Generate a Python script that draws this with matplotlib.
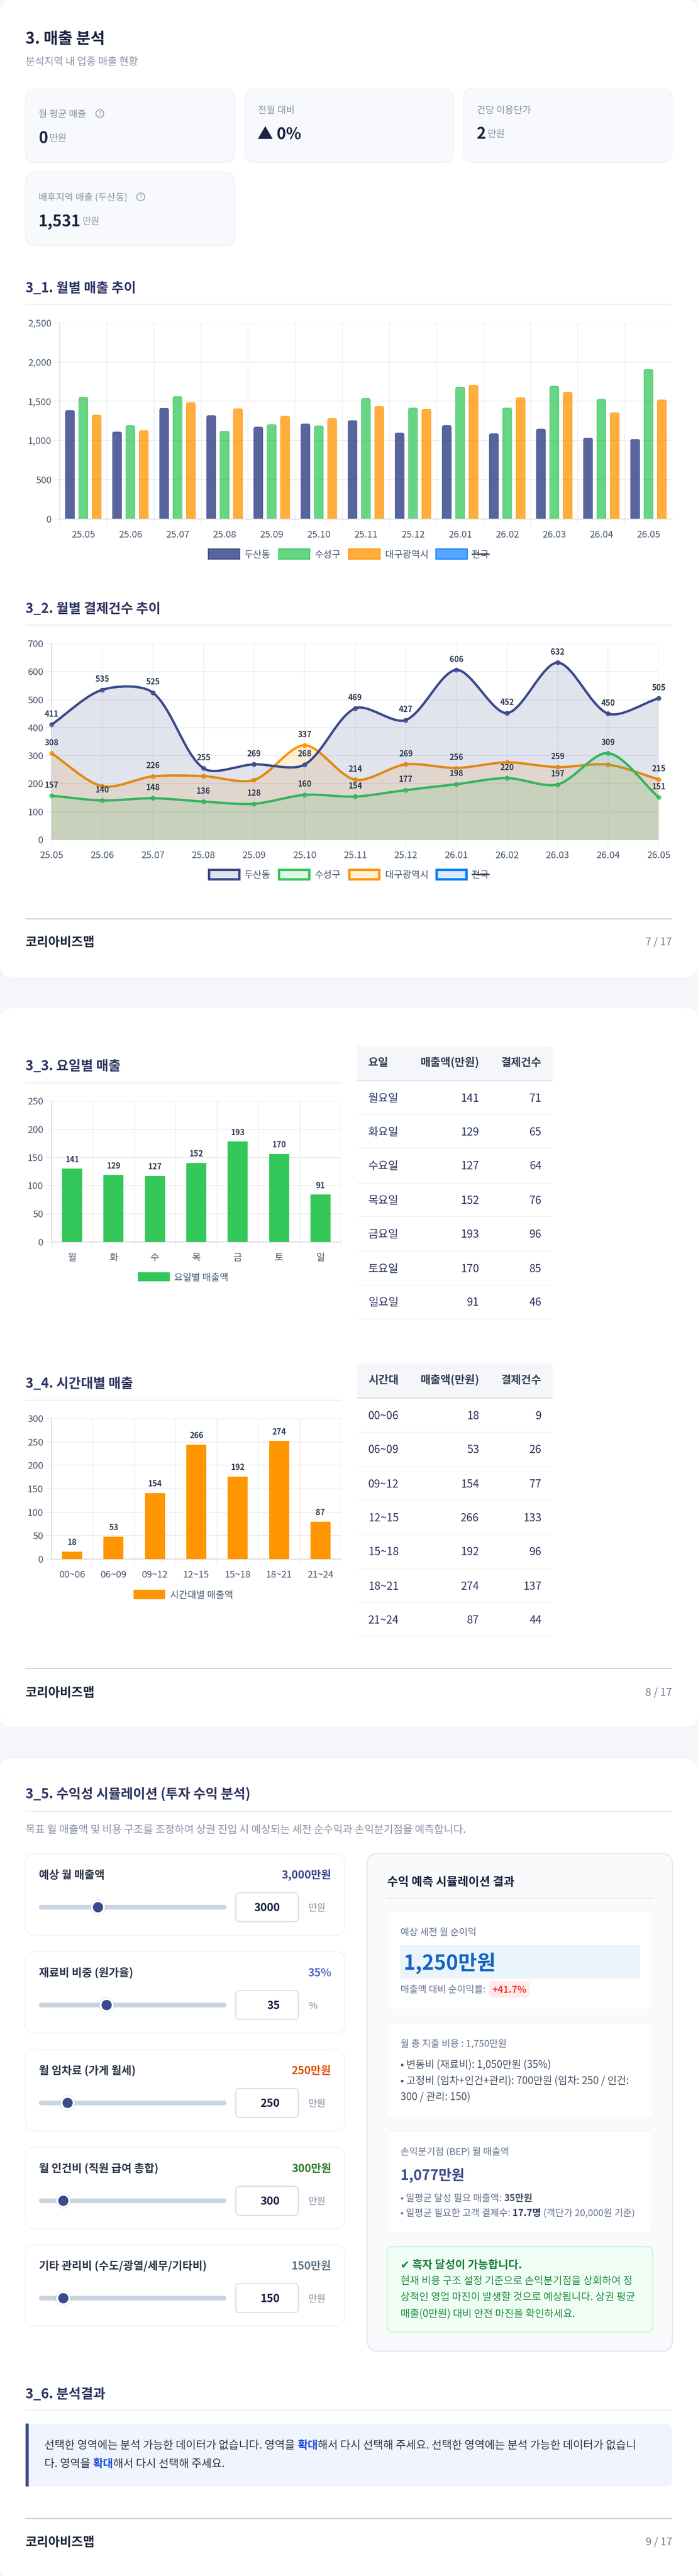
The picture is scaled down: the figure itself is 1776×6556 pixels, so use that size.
# monthly sales report page: kpi cards, bar and line charts, tables and a simulator panel
import matplotlib
matplotlib.use("Agg")
import matplotlib.pyplot as plt
import numpy as np
from matplotlib.patches import FancyBboxPatch, Rectangle, Circle, PathPatch
from matplotlib.path import Path
from matplotlib.transforms import IdentityTransform

plt.rcParams["font.family"] = ["Noto Sans CJK KR", "DejaVu Sans"]

W, H = 1776, 6556

# chart data
months = ["25.05", "25.06", "25.07", "25.08", "25.09", "25.10", "25.11", "25.12", "26.01", "26.02", "26.03", "26.04", "26.05"]
sales_dong = [1386, 1112, 1413, 1321, 1174, 1214, 1256, 1099, 1194, 1089, 1149, 1034, 1017]
sales_gu = [1555, 1194, 1563, 1122, 1206, 1189, 1540, 1418, 1685, 1418, 1695, 1530, 1909]
sales_city = [1326, 1129, 1486, 1408, 1314, 1284, 1436, 1403, 1710, 1550, 1620, 1358, 1520]

count_dong = [411, 535, 525, 255, 269, 268, 469, 427, 606, 452, 632, 450, 505]
count_gu = [157, 140, 148, 136, 128, 160, 154, 177, 198, 220, 197, 309, 151]
count_city = [308, 191, 226, 227, 213, 337, 214, 269, 256, 276, 259, 268, 215]
# the picture hides these city labels where they would collide
city_label_hidden = [1, 3, 4, 9, 11]

days = ["월", "화", "수", "목", "금", "토", "일"]
day_names = ["월요일", "화요일", "수요일", "목요일", "금요일", "토요일", "일요일"]
day_sales = [141, 129, 127, 152, 193, 170, 91]
day_counts = [71, 65, 64, 76, 96, 85, 46]
# drawn bar heights sit a bit below the printed labels in the picture
day_bars = [130, 119, 117, 140, 178, 156, 84]

hours = ["00~06", "06~09", "09~12", "12~15", "15~18", "18~21", "21~24"]
hour_sales = [18, 53, 154, 266, 192, 274, 87]
hour_counts = [9, 26, 77, 133, 96, 137, 44]
hour_bars = [16, 48, 141, 244, 176, 252, 80]

slider_labels = ["예상 월 매출액", "재료비 비중 (원가율)", "월 임차료 (가게 월세)", "월 인건비 (직원 급여 총합)", "기타 관리비 (수도/광열/세무/기타비)"]
slider_texts = ["3,000만원", "35%", "250만원", "300만원", "150만원"]
slider_values = [3000, 35, 250, 300, 150]
slider_max = [10000, 100, 2000, 3000, 1500]
slider_units = ["만원", "%", "만원", "만원", "만원"]
slider_colors = ["#3B4A8C", "#5C6BC0", "#E65100", "#2E7D32", "#64748B"]

NAVY, GREEN, ORANGE, BLUE = "#3B4A8C", "#34C759", "#FF9500", "#007AFF"
series_names = ["두산동", "수성구", "대구광역시", "전국"]
series_colors = [NAVY, GREEN, ORANGE, BLUE]

TITLE = "#1A2340"
SECTION = "#2D3561"
GREY = "#8A94A6"
TICK = "#4A5A70"
LABEL = "#2F3E55"
GRID = "#ECECEF"
AXIS = "#D6D7DB"

fig = plt.figure(figsize=(W / 100, H / 100), dpi=100, facecolor="#F4F6FA")
bg = fig.add_axes([0, 0, 1, 1], zorder=1)
bg.set_xlim(0, W)
bg.set_ylim(H, 0)
bg.axis("off")
renderer = fig.canvas.get_renderer()


def rrect(x0, y0, x1, y1, r, fc, ec="none", lw=0, z=1):
    p = FancyBboxPatch((x0 + r, y0 + r), x1 - x0 - 2 * r, y1 - y0 - 2 * r,
                       boxstyle=f"round,pad={r},rounding_size={r}",
                       fc=fc, ec=ec, lw=lw * 0.72, zorder=z)
    bg.add_patch(p)
    return p


def rect(x0, y0, x1, y1, fc, z=2):
    bg.add_patch(Rectangle((x0, y0), x1 - x0, y1 - y0, fc=fc, ec="none", zorder=z))


def txt(x, cy, s, size, color, weight="normal", ha="left", z=5):
    # cy is the visual centre of the hangul line, in pixels
    return bg.text(x, cy + 0.36 * size, s, fontsize=size * 0.72, color=color,
                   fontweight=weight, ha=ha, va="baseline", zorder=z)


def run_width(s, size, weight):
    a = bg.text(0, 0, s + "|", fontsize=size * 0.72, fontweight=weight)
    b = bg.text(0, 0, "|", fontsize=size * 0.72, fontweight=weight)
    w = a.get_window_extent(renderer).width - b.get_window_extent(renderer).width
    a.remove()
    b.remove()
    return w


def runs(x, cy, parts):
    # parts: text, size, color, weight
    for s, size, color, weight in parts:
        txt(x, cy, s, size, color, weight)
        x += run_width(s, size, weight)
    return x


def section(y_title, y_rule, s, x1=1710):
    txt(65, y_title, s, 34, SECTION, "bold")
    rect(65, y_rule - 2, x1, y_rule + 2, "#F0F1F5")


def footer(y_rule, y_text, page):
    rect(65, y_rule - 1.5, 1710, y_rule + 1.5, "#CDD5E0")
    txt(65, y_text, "코리아비즈맵", 32, "#1F2937", "bold")
    txt(1710, y_text, f"{page} / 17", 27, "#6B7C93", ha="right")


def chart_axes(left, top, right, bottom):
    ax = fig.add_axes([left / W, 1 - bottom / H, (right - left) / W, (bottom - top) / H], zorder=2)
    ax.patch.set_alpha(0)
    for side in ["top", "right"]:
        ax.spines[side].set_visible(False)
    for side in ["left", "bottom"]:
        ax.spines[side].set_color(AXIS)
        ax.spines[side].set_linewidth(2 * 0.72)
    ax.set_axisbelow(True)
    ax.yaxis.grid(True, color=GRID, lw=2 * 0.72)
    ax.tick_params(axis="y", length=15 * 0.72, width=2 * 0.72, color=GRID, pad=6 * 0.72,
                   labelsize=24 * 0.72, labelcolor=TICK)
    return ax


def offset_x_grid(ax, n, with_last=True):
    # category axis with grid lines between categories
    end = n if with_last else n - 1
    ax.set_xlim(-0.5, n - 0.5)
    ax.set_xticks(np.arange(n))
    ax.set_xticks(np.arange(end + 1) - 0.5, minor=True)
    ax.xaxis.grid(True, which="minor", color=GRID, lw=1.6 * 0.72)
    ax.tick_params(axis="x", which="minor", length=15 * 0.72, width=1.6 * 0.72, color=GRID)
    ax.tick_params(axis="x", which="major", length=15 * 0.72, color="none", pad=14 * 0.72,
                   labelsize=24 * 0.72, labelcolor=TICK)


def round_top(ax, bars, r):
    # round the top corners of bars with a clip shape in display pixels
    for b in bars:
        (x0, y0), (x1, y1) = ax.transData.transform([(b.get_x(), 0), (b.get_x() + b.get_width(), b.get_height())])
        clip = FancyBboxPatch((x0 + r, y0 - 10), x1 - x0 - 2 * r, y1 - y0 + 10 - r,
                              boxstyle=f"round,pad={r},rounding_size={r}", transform=IdentityTransform())
        b.set_clip_path(clip)


def spline_path(ax, ys, tension=0.3):
    # bezier segments with the same control points chart.js uses for a tension curve
    pts = ax.transData.transform(np.column_stack([np.arange(len(ys)), ys]))
    verts = [pts[0]]
    codes = [Path.MOVETO]
    nexts, prevs = [], []
    for i, p in enumerate(pts):
        a = pts[i - 1] if i > 0 else p
        c = pts[i + 1] if i < len(pts) - 1 else p
        d1, d2 = np.linalg.norm(p - a), np.linalg.norm(c - p)
        total = d1 + d2
        s1, s2 = (d1 / total, d2 / total) if total else (0, 0)
        prevs.append(p - tension * s1 * (c - a))
        nexts.append(p + tension * s2 * (c - a))
    for i in range(len(pts) - 1):
        verts += [nexts[i], prevs[i + 1], pts[i + 1]]
        codes += [Path.CURVE4] * 3
    return ax.transData.inverted().transform(np.array(verts)), codes


def rgba(c, a):
    return matplotlib.colors.to_rgba(c, a)


def bar_value_labels(ax, xs, bars, labels):
    for x, y, s in zip(xs, bars, labels):
        ax.annotate(str(s), (x, y), xytext=(0, 23 * 0.72), textcoords="offset points",
                    ha="center", va="center", fontsize=20 * 0.72, fontweight="bold", color=LABEL)


def table(top, head_bottom, lines, rows_y, head, names, sales, counts):
    rect(908, top, 1406, head_bottom, "#F4F6FA")
    rect(908, head_bottom, 1406, head_bottom + 4, "#E2E8F0")
    head_y = (top + head_bottom) / 2 - 2
    txt(937, head_y, head[0], 28, "#334155", "bold")
    txt(1219, head_y, "매출액(만원)", 28, "#334155", "bold", ha="right")
    txt(1378, head_y, "결제건수", 28, "#334155", "bold", ha="right")
    for y in lines:
        rect(908, y - 1, 1406, y + 1, "#F0F1F5")
    for y, name, a, b in zip(rows_y, names, sales, counts):
        txt(937, y, name, 28, SECTION)
        txt(1219, y, str(a), 28, SECTION, ha="right")
        txt(1378, y, str(b), 28, SECTION, ha="right")


# page cards
rrect(0, 0, W, 2486, 32, "white")
rrect(0, 2566, W, 4395, 32, "white")
rrect(0, 4476, W, H + 8, 32, "white")

# ---- header and kpi cards
txt(65, 97, "3. 매출 분석", 40, TITLE, "bold")
txt(65, 156, "분석지역 내 업종 매출 현황", 26, GREY)


def help_icon(x, y):
    bg.add_patch(Circle((x, y), 10, fc="none", ec="#8A94A6", lw=1.4, zorder=5))
    bg.text(x, y + 6, "?", fontsize=11, color="#8A94A6", ha="center", va="baseline", zorder=5)


for x0, x1, y0, y1 in [(65, 597, 226, 413), (623, 1153, 226, 413), (1179, 1710, 226, 413), (65, 597, 438, 625)]:
    rrect(x0, y0, x1, y1, 24, "#F7F9FC", "#F0F2F6", 2.5)

txt(98, 289, "월 평균 매출", 24, GREY)
help_icon(254, 289)
runs(98, 350, [("0", 40, TITLE, "bold"), (" ", 20, GREY, "normal"), ("만원", 24, GREY, "normal")])
txt(656, 279, "전월 대비", 24, GREY)
txt(655, 339, "▲ 0%", 40, TITLE, "bold")
txt(1213, 279, "건당 이용단가", 24, GREY)
runs(1213, 339, [("2", 40, TITLE, "bold"), (" ", 20, GREY, "normal"), ("만원", 24, GREY, "normal")])
txt(98, 501, "배후지역 매출 (두산동)", 24, GREY)
help_icon(358, 501)
runs(98, 562, [("1,531", 40, TITLE, "bold"), (" ", 20, GREY, "normal"), ("만원", 24, GREY, "normal")])

# ---- 3_1 monthly sales
section(732, 775, "3_1. 월별 매출 추이")
ax1 = chart_axes(152, 822, 1710, 1320.5)
ax1.set_ylim(0, 2500)
ax1.set_yticks(range(0, 2501, 500))
ax1.set_yticklabels([f"{v:,}" for v in range(0, 2501, 500)])
offset_x_grid(ax1, len(months), with_last=False)
ax1.set_xticklabels(months)
x = np.arange(len(months))
for k, (vals, col, alpha) in enumerate(zip([sales_dong, sales_gu, sales_city], series_colors, [0.85, 0.74, 0.76])):
    bars = ax1.bar(x + (k - 1) * 0.2837, vals, width=0.2, color=rgba(col, alpha), edgecolor=col, linewidth=2 * 0.72)
    round_top(ax1, bars, 5)

for (x0, x1, tx), name, col, alpha in zip([(530, 610, 622), (709, 788, 801), (887, 967, 980), (1109, 1189, 1200)],
                                          series_names, series_colors, [0.85, 0.74, 0.76, 0.66]):
    bg.add_patch(Rectangle((x0, 1397), x1 - x0, 25.5, fc=rgba(col, alpha), ec=col, lw=2.4 * 0.72, zorder=3))
    txt(tx, 1410, name, 24, TICK)
rect(1200, 1408.5, 1246, 1411.5, "#3D4A5C", z=6)

# ---- 3_2 monthly payment counts
section(1548, 1591, "3_2. 월별 결제건수 추이")
ax2 = chart_axes(131.4, 1638, 1676, 2137)
ax2.set_ylim(0, 700)
ax2.set_yticks(range(0, 701, 100))
ax2.set_xlim(0, len(months) - 1)
ax2.set_xticks(np.arange(len(months)))
ax2.set_xticklabels(months)
ax2.xaxis.grid(True, color=GRID, lw=1.6 * 0.72)
ax2.tick_params(axis="x", length=15 * 0.72, width=1.6 * 0.72, color=GRID, pad=14 * 0.72,
                labelsize=24 * 0.72, labelcolor=TICK)
ax2.spines["bottom"].set_color("#E4E5E8")

# chart.js paints the first dataset last, so the navy fill lies over the rest
for vals, col, z in [(count_city, ORANGE, 3), (count_gu, GREEN, 4), (count_dong, NAVY, 5)]:
    verts, codes = spline_path(ax2, vals)
    fill_verts = np.vstack([verts, [[len(vals) - 1, 0], [0, 0], [0, 0]]])
    fill_codes = codes + [Path.LINETO, Path.LINETO, Path.CLOSEPOLY]
    ax2.add_patch(PathPatch(Path(fill_verts, fill_codes), fc=rgba(col, 0.15), ec="none", zorder=z))
    ax2.add_patch(PathPatch(Path(verts, codes), fc="none", ec=col, lw=6 * 0.72, zorder=z, clip_on=False,
                            capstyle="round", joinstyle="round"))
    ax2.plot(x, vals, "o", ms=9.5 * 0.72, mfc=rgba(col, 0.15), mec=col, mew=2.6 * 0.72, zorder=z, clip_on=False)

for vals, hidden in [(count_dong, []), (count_gu, []), (count_city, city_label_hidden)]:
    for i, v in enumerate(vals):
        if i in hidden:
            continue
        ax2.annotate(str(v), (i, v), xytext=(0, 27 * 0.72), textcoords="offset points", ha="center", va="center",
                     fontsize=20 * 0.72, fontweight="bold", color=LABEL, zorder=8, annotation_clip=False)

for (x0, x1, tx), name, col in zip([(532, 609, 622), (710, 787, 801), (889, 965, 980), (1111, 1187, 1200)],
                                   series_names, series_colors):
    bg.add_patch(Rectangle((x0, 2214), x1 - x0, 24, fc=rgba(col, 0.15), ec=col, lw=6 * 0.72, zorder=3))
    txt(tx, 2225, name, 24, TICK)
rect(1200, 2223.5, 1246, 2226.5, "#3D4A5C", z=6)

footer(2338, 2396, 7)

# ---- 3_3 sales per weekday
section(2712, 2756, "3_3. 요일별 매출", x1=868)
ax3 = chart_axes(131, 2802, 868, 3161)
ax3.set_ylim(0, 250)
ax3.set_yticks(range(0, 251, 50))
offset_x_grid(ax3, len(days))
ax3.set_xticklabels(days)
ax3.bar(np.arange(len(days)), day_bars, width=0.485, color=GREEN, zorder=3)
bar_value_labels(ax3, np.arange(len(days)), day_bars, day_sales)
rect(351, 3238, 432, 3261, GREEN)
txt(443, 3250, "요일별 매출액", 24, TICK)
table(2662, 2748, [2837, 2923, 3011, 3096, 3184, 3271, 3357],
      [2793.5, 2880, 2966, 3054, 3140, 3228, 3313], ["요일"], day_names, day_sales, day_counts)

# ---- 3_4 sales per time band
section(3520, 3564, "3_4. 시간대별 매출", x1=868)
ax4 = chart_axes(131, 3610, 868, 3968)
ax4.set_ylim(0, 300)
ax4.set_yticks(range(0, 301, 50))
offset_x_grid(ax4, len(hours))
ax4.set_xticklabels(hours)
ax4.bar(np.arange(len(hours)), hour_bars, width=0.485, color=ORANGE, zorder=3)
bar_value_labels(ax4, np.arange(len(hours)), hour_bars, hour_sales)
rect(340, 4046, 420, 4070, ORANGE)
txt(433, 4058, "시간대별 매출액", 24, TICK)
table(3470, 3556, [3645, 3733, 3819, 3905, 3993, 4079, 4165],
      [3602, 3688, 3776, 3862, 3948, 4036, 4122], ["시간대"], hours, hour_sales, hour_counts)

footer(4246, 4306, 8)

# ---- 3_5 profit simulator, left side
section(4565, 4610, "3_5. 수익성 시뮬레이션 (투자 수익 분석)")
txt(65, 4655, "목표 월 매출액 및 비용 구조를 조정하여 상권 진입 시 예상되는 세전 순수익과 손익분기점을 예측합니다.", 26.7, GREY)

for top, label, vtext, val, vmax, unit, col in zip([4718, 4967, 5216, 5465, 5713], slider_labels, slider_texts,
                                                   slider_values, slider_max, slider_units, slider_colors):
    rrect(65, top, 877, top + 207, 24, "white", "#F1F3F6", 2.5)
    txt(99, top + 53, label, 28, "#2D3748", "bold")
    txt(843, top + 53, vtext, 28, col, "bold", ha="right")
    rrect(99, top + 130, 576, top + 142, 6, "#CBD5E1", z=2)
    cx = 117 + 441 * val / vmax
    bg.add_patch(Circle((cx, top + 136), 20, fc=(0, 0, 0, 0.08), ec="none", zorder=3))
    bg.add_patch(Circle((cx, top + 136), 18, fc="white", ec="none", zorder=3))
    bg.add_patch(Circle((cx, top + 136), 13, fc=NAVY, ec="none", zorder=4))
    rrect(600, top + 99, 759, top + 173, 10, "white", "#CBD5E1", 2)
    txt(712, top + 136, str(val), 28, TITLE, "bold", ha="right")
    txt(785, top + 136, unit, 24, GREY)

# ---- 3_5 result panel
rrect(934, 4717, 1711, 5984, 30, "#F8FAFC", "#E2E8F0", 3)
txt(985, 4788, "수익 예측 시뮬레이션 결과", 30, TITLE, "bold")
rect(985, 4830, 1661, 4832, "#E2E8F0")

rrect(985, 4865, 1661, 5114, 16, "white", "#F3F5F8", 2)
txt(1019, 4916, "예상 세전 월 순이익", 24, "#64748B")
rrect(1018, 4950, 1628, 5036, 6, "#EBF3FB", z=2)
txt(1027, 4994, "1,250만원", 52, "#1565C0", "bold")
txt(1019, 5062, "매출액 대비 순이익률:", 24, "#64748B")
rrect(1244, 5042, 1348, 5084, 10, "#FFEBEE", z=2)
txt(1296, 5063, "+41.7%", 24, "#FF3B30", "bold", ha="center")

rrect(985, 5149, 1661, 5390, 16, "white", "#F3F5F8", 2)
txt(1019, 5200, "월 총 지출 비용 : 1,750만원", 24, "#64748B")
txt(1019, 5253, "• 변동비 (재료비): 1,050만원 (35%)", 26, "#475569")
txt(1019, 5294, "• 고정비 (임차+인건+관리): 700만원 (임차: 250 / 인건:", 26, "#475569")
txt(1019, 5335, "300 / 관리: 150)", 26, "#475569")

rrect(985, 5425, 1661, 5683, 16, "white", "#F3F5F8", 2)
txt(1019, 5476, "손익분기점 (BEP) 월 매출액", 24, "#64748B")
txt(1019, 5535, "1,077만원", 36, NAVY, "bold")
runs(1019, 5593, [("• 일평균 달성 필요 매출액: ", 24, "#64748B", "normal"), ("35만원", 24, "#475569", "bold")])
runs(1019, 5631, [("• 일평균 필요한 고객 결제수: ", 24, "#64748B", "normal"), ("17.7명", 24, "#2D3561", "bold"),
                  (" (객단가 20,000원 기준)", 24, "#64748B", "normal")])

rrect(985, 5718, 1661, 5935, 16, "#F0FDF4", "#BBF7D0", 2.5)
txt(1019, 5763, "✔ 흑자 달성이 가능합니다.", 28, "#15803D", "bold")
txt(1019, 5804, "현재 비용 구조 설정 기준으로 손익분기점을 상회하여 정", 26, "#1F8F45")
txt(1019, 5845, "상적인 영업 마진이 발생할 것으로 예상됩니다. 상권 평균", 26, "#1F8F45")
txt(1019, 5887, "매출(0만원) 대비 안전 마진을 확인하세요.", 26, "#1F8F45")

# ---- 3_6 result text
section(6092, 6134, "3_6. 분석결과")
rrect(65, 6168, 1710, 6328, 18, "#F0F4FF", z=1)
rect(65, 6168, 90, 6328, "#F0F4FF", z=1)
rect(65, 6168, 73, 6328, NAVY, z=2)
body = "#2D3748"
runs(113, 6222, [("선택한 영역에는 분석 가능한 데이터가 없습니다. 영역을 ", 28, body, "normal"), ("확대", 28, "#1D4ED8", "bold"),
                 ("해서 다시 선택해 주세요. 선택한 영역에는 분석 가능한 데이터가 없습니", 28, body, "normal")])
runs(113, 6269, [("다. 영역을 ", 28, body, "normal"), ("확대", 28, "#1D4ED8", "bold"),
                 ("해서 다시 선택해 주세요.", 28, body, "normal")])

footer(6409, 6468, 9)

fig.savefig("out.png", dpi=100, facecolor=fig.get_facecolor())
